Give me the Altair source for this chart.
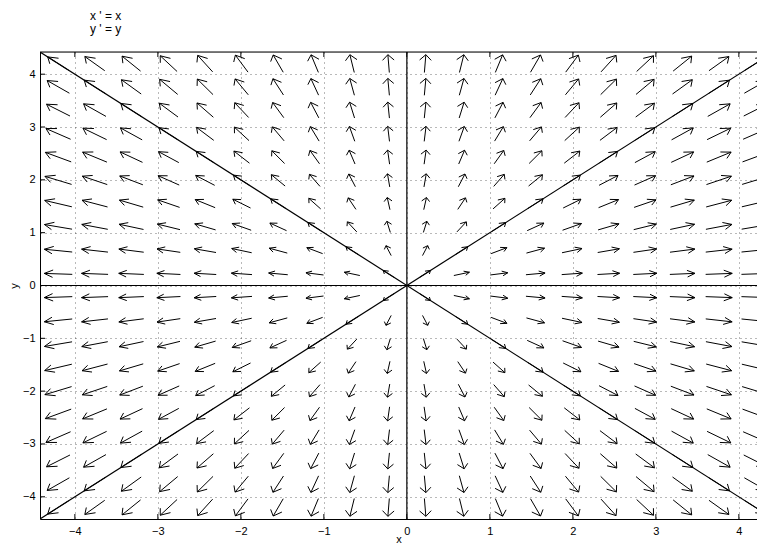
import math
import altair as alt
import pandas as pd

# ---- data ----
title_lines = ["x ' = x", "y ' = y"]
grid_x = [-4.2, -3.76, -3.32, -2.87, -2.43, -1.99, -1.55, -1.11, -0.66, -0.22,
          0.22, 0.66, 1.11, 1.55, 1.99, 2.43, 2.87, 3.32, 3.76, 4.2]
grid_y = [-4.2, -3.76, -3.32, -2.87, -2.43, -1.99, -1.55, -1.11, -0.66, -0.22,
          0.22, 0.66, 1.11, 1.55, 1.99, 2.43, 2.87, 3.32, 3.76, 4.2]
tick_values = [-4, -3, -2, -1, 0, 1, 2, 3, 4]
# trajectories (start x, start y, end x, end y)
traj_x1 = [-4.42, -4.42, 0.0, -4.42]
traj_y1 = [-4.42, 4.42, -4.42, 0.0]
traj_x2 = [4.42, 4.42, 0.0, 4.42]
traj_y2 = [4.42, -4.42, 4.42, 0.0]

W, H = 717, 467
XMIN = -4.42
XMAX = XMIN + W / 83.0
YMIN, YMAX = -4.42, 4.42
FONT = "Liberation Sans"

# ---- direction field of x' = x, y' = y ----
segs = []
head_ang = math.radians(34)
for gx in grid_x:
    for gy in grid_y:
        vx, vy = gx, gy          # x' = x, y' = y
        r = math.hypot(vx, vy)
        ux, uy = vx / r, vy / r
        L = min(0.17 + 0.04 * r, 0.36)
        tx, ty = gx - ux * L / 2, gy - uy * L / 2
        px, py = gx + ux * L / 2, gy + uy * L / 2
        segs.append(dict(x=tx, y=ty, x2=px, y2=py))
        h = 0.37 * L
        for s in (1, -1):
            a = math.atan2(-uy, -ux) + s * head_ang
            segs.append(dict(x=px, y=py, x2=px + h * math.cos(a), y2=py + h * math.sin(a)))
arrows = pd.DataFrame(segs)
traj = pd.DataFrame(dict(x=traj_x1, y=traj_y1, x2=traj_x2, y2=traj_y2))
ticks = pd.DataFrame(dict(x=tick_values, y=tick_values))

xscale = alt.Scale(domain=[XMIN, XMAX], nice=False, zero=False)
yscale = alt.Scale(domain=[YMIN, YMAX], nice=False, zero=False)
common = dict(grid=True, gridDash=[1, 4], gridColor="#000", gridOpacity=0.55,
              ticks=False, labelFontSize=11, labelFont=FONT, labelColor="#000",
              domainColor="#000", domainWidth=1, titleFont=FONT, titleFontSize=11,
              titleFontWeight="normal", titleColor="#000", labelFlush=False)
xaxis = alt.Axis(values=tick_values, labelPadding=6, title="x", titleY=23,
                 titleBaseline="alphabetic", **common)
yaxis = alt.Axis(values=tick_values, labelPadding=5, title="y", titlePadding=3, **common)

X = alt.X("x:Q", scale=xscale, axis=xaxis)
Y = alt.Y("y:Q", scale=yscale, axis=yaxis)

arrow_layer = alt.Chart(arrows).mark_rule(color="#000", strokeWidth=1, clip=True).encode(
    x=X, y=Y, x2="x2:Q", y2="y2:Q")
traj_layer = alt.Chart(traj).mark_rule(color="#000", strokeWidth=1.2, clip=True).encode(
    x=X, y=Y, x2="x2:Q", y2="y2:Q")
bottom_ticks = alt.Chart(ticks).mark_rule(color="#000", strokeWidth=1).encode(
    x=X, y=alt.value(H), y2=alt.value(H - 5))
top_ticks = alt.Chart(ticks).mark_rule(color="#000", strokeWidth=1).encode(
    x=X, y=alt.value(0), y2=alt.value(5))
left_ticks = alt.Chart(ticks).mark_rule(color="#000", strokeWidth=1).encode(
    y=Y, x=alt.value(0), x2=alt.value(5))
top_border = alt.Chart(ticks.head(1)).mark_rule(color="#000", strokeWidth=1).encode(
    x=alt.value(0), x2=alt.value(W), y=alt.value(0))

chart = alt.layer(arrow_layer, traj_layer, bottom_ticks, top_ticks, left_ticks, top_border).properties(
    width=W, height=H,
    title=alt.TitleParams(text=title_lines, anchor="start", frame="group", dx=50, offset=16,
                          fontSize=12, fontWeight="normal", font=FONT, color="#000",
                          lineHeight=13),
    padding={"left": 32, "top": 44, "right": 0, "bottom": 26},
    autosize=alt.AutoSizeParams(type="none"),
).configure_view(stroke=None).configure(background="white")

chart.save("out.html", embed_options={"renderer": "svg", "actions": False})
